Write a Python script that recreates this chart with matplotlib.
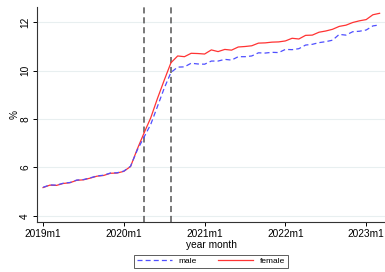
import matplotlib
matplotlib.use("Agg")
import matplotlib.pyplot as plt
from matplotlib.lines import Line2D

plt.rcParams['font.family'] = ['Liberation Sans', 'DejaVu Sans']

# months since 2019m1
months = list(range(51))
male = [5.18, 5.28, 5.27, 5.35, 5.38, 5.48, 5.50, 5.57, 5.65, 5.68, 5.77, 5.78, 5.85, 6.05,
        6.72, 7.25, 7.78, 8.52, 9.27,
        9.92, 10.14, 10.15, 10.30, 10.27, 10.26, 10.39, 10.39, 10.46, 10.43, 10.57, 10.57,
        10.60, 10.73, 10.72, 10.75, 10.74, 10.87, 10.86, 10.90, 11.05, 11.08, 11.15, 11.19,
        11.25, 11.49, 11.46, 11.60, 11.62, 11.67, 11.84, 11.88]
female = [5.17, 5.27, 5.26, 5.34, 5.37, 5.47, 5.49, 5.56, 5.64, 5.67, 5.76, 5.77, 5.84, 6.04,
          6.76, 7.42, 8.05, 8.85, 9.60,
          10.32, 10.60, 10.57, 10.71, 10.70, 10.68, 10.85, 10.78, 10.87, 10.84, 10.97, 10.99,
          11.02, 11.13, 11.14, 11.17, 11.18, 11.22, 11.33, 11.30, 11.45, 11.46, 11.58, 11.63,
          11.70, 11.82, 11.87, 11.98, 12.05, 12.10, 12.30, 12.36]
events = [15, 19]  # 2020m4, 2020m8
xticks = [0, 12, 24, 36, 48]
xticklabels = ['2019m1', '2020m1', '2021m1', '2022m1', '2023m1']
yticks = [4, 6, 8, 10, 12]

fig = plt.figure(figsize=(3.85, 2.72), dpi=100)
ax = fig.add_axes([37/385, 1 - 222/272, (385 - 37)/385, (222 - 7)/272])

for y in yticks:
    ax.axhline(y, color='#e8eff0', lw=0.8, zorder=0)
for e in events:
    ax.axvline(e, color='#555555', lw=1.1, ls=(0, (4, 2.5)), zorder=1)

ax.plot(months, male, color='#4f4fff', lw=0.9, ls=(0, (4, 2.5)), zorder=3)
ax.plot(months, female, color='#ff3333', lw=0.9, zorder=2)

ax.set_xlim(-0.9, 50.8)
ax.set_ylim(3.75, 12.62)
ax.set_xticks(xticks)
ax.set_xticklabels(xticklabels, fontsize=7.3)
ax.set_yticks(yticks)
ax.set_yticklabels([str(v) for v in yticks], fontsize=7.3, rotation=90, va='center')
ax.tick_params(length=3, width=0.7, pad=2)
for s in ['top', 'right']:
    ax.spines[s].set_visible(False)
for s in ['left', 'bottom']:
    ax.spines[s].set_linewidth(0.8)
    ax.spines[s].set_color('#333333')
ax.set_xlabel('year month', fontsize=7.3, labelpad=1)
ax.set_ylabel('%', fontsize=7.3, labelpad=0.5)

handles = [Line2D([], [], color='#4f4fff', lw=0.9, ls=(0, (4, 2.5))),
           Line2D([], [], color='#ff3333', lw=0.9)]
leg = fig.legend(handles, ['male', 'female'], loc='lower center',
                 bbox_to_anchor=(211/385, 0.0), ncol=2, fontsize=6,
                 frameon=True, fancybox=False, edgecolor='#333333',
                 handlelength=4.2, columnspacing=2.6, borderpad=0.3,
                 handletextpad=0.8)
leg.get_frame().set_linewidth(0.7)

fig.savefig('out.png', dpi=100)
